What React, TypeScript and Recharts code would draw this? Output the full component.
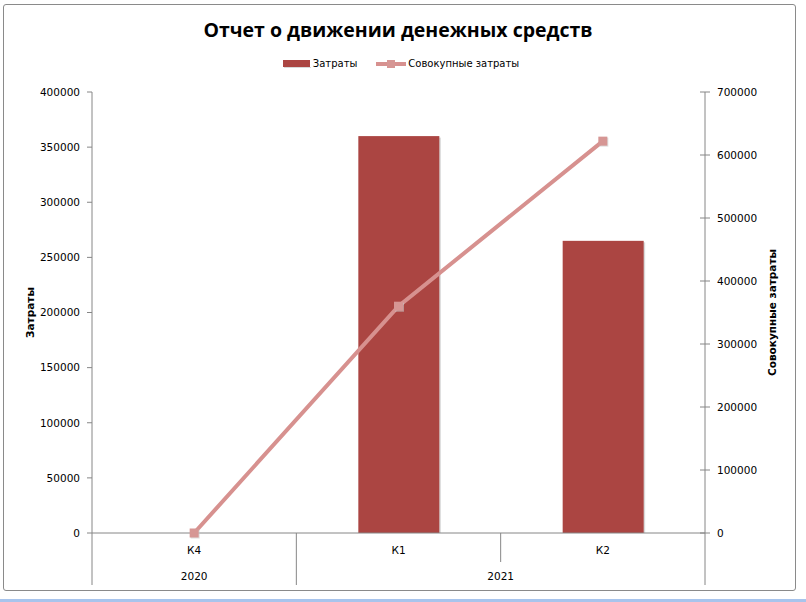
import React from 'react';
import { ComposedChart, Bar, Line, XAxis, YAxis, Legend } from 'recharts';

const quarters = ['К4', 'К1', 'К2'];
const years = ['2020', '2021', '2021'];
const costs = [0, 360000, 265000];
const cumulative = [0, 360000, 622000];
const leftTicks = [0, 50000, 100000, 150000, 200000, 250000, 300000, 350000, 400000];
const rightTicks = [0, 100000, 200000, 300000, 400000, 500000, 600000, 700000];

const data = quarters.map((q, i) => ({ q, year: years[i], cost: costs[i], cum: cumulative[i] }));

const AXIS = '#868686';
const BAR = '#ab4542';
const LINE = '#d7918f';
const FONT = '"DejaVu Sans", Verdana, sans-serif';
const FS = 10.5;

const LeftTick = (props: any) => {
  const { x, y, payload } = props;
  return (
    <g>
      <line x1={x - 5} x2={x} y1={y} y2={y} stroke={AXIS} />
      <text x={x - 12} y={y} dy={3.8} textAnchor="end" fontFamily={FONT} fontSize={FS} fill="#000">
        {payload.value}
      </text>
    </g>
  );
};

const RightTick = (props: any) => {
  const { x, y, payload } = props;
  return (
    <g>
      <line x1={x - 5} x2={x + 5} y1={y} y2={y} stroke={AXIS} />
      <text x={x + 12} y={y} dy={3.8} textAnchor="start" fontFamily={FONT} fontSize={FS} fill="#000">
        {payload.value}
      </text>
    </g>
  );
};

const QuarterTick = (props: any) => {
  const { x, y, payload, index, width, visibleTicksCount } = props;
  const band = width / visibleTicksCount;
  const left = x - band / 2;
  const groupStart = index === 0 || years[index] !== years[index - 1];
  const isLast = index === visibleTicksCount - 1;
  return (
    <g>
      <line x1={left} x2={left} y1={y} y2={groupStart ? y + 52 : y + 29} stroke={AXIS} />
      {isLast && <line x1={x + band / 2} x2={x + band / 2} y1={y} y2={y + 52} stroke={AXIS} />}
      <text x={x} y={y + 21} textAnchor="middle" fontFamily={FONT} fontSize={FS} fill="#000">
        {payload.value}
      </text>
    </g>
  );
};

const YearTick = (props: any) => {
  const { x, y, index, width, visibleTicksCount } = props;
  const band = width / visibleTicksCount;
  const groupStart = index === 0 || years[index] !== years[index - 1];
  if (!groupStart) return <g />;
  let n = 1;
  while (index + n < years.length && years[index + n] === years[index]) n++;
  const cx = x + ((n - 1) * band) / 2;
  return (
    <text x={cx} y={y + 21} textAnchor="middle" fontFamily={FONT} fontSize={FS} fill="#000">
      {years[index]}
    </text>
  );
};

const ShadowBar = (props: any) => {
  const { x, y, width, height } = props;
  if (!height || height <= 0) return <g />;
  return (
    <g>
      <rect x={x + 1.5} y={y + 1.5} width={width} height={height - 1.5} fill="#d9d9d9" />
      <rect x={x} y={y} width={width} height={height} fill={BAR} />
    </g>
  );
};

const SquareDot = (props: any) => {
  const { cx, cy, index } = props;
  if (cx == null || cy == null) return <g key={index} />;
  return (
    <g key={index}>
      <rect x={cx - 3.5} y={cy - 3.5} width={9} height={9} fill="#c8c8c8" opacity={0.6} />
      <rect x={cx - 4.5} y={cy - 4.5} width={9} height={9} fill="#d69694" />
    </g>
  );
};

const LeftLabel = (props: any) => {
  const vb = props.viewBox || {};
  const x = 34;
  const y = (vb.y ?? 92) + (vb.height ?? 441) / 2;
  return (
    <text x={x} y={y} transform={`rotate(-90, ${x}, ${y})`} textAnchor="middle" fontFamily={FONT} fontSize={FS} fontWeight="bold" fill="#000">
      Затраты
    </text>
  );
};

const RightLabel = (props: any) => {
  const vb = props.viewBox || {};
  const x = 776;
  const y = (vb.y ?? 92) + (vb.height ?? 441) / 2;
  return (
    <text x={x} y={y} transform={`rotate(-90, ${x}, ${y})`} textAnchor="middle" fontFamily={FONT} fontSize={FS} fontWeight="bold" fill="#000">
      Совокупные затраты
    </text>
  );
};

const LegendContent = () => (
  <div style={{ display: 'flex', justifyContent: 'center', alignItems: 'center', fontFamily: FONT, fontSize: 10, color: '#000', paddingRight: 4 }}>
    <svg width={29} height={10} style={{ marginRight: 1 }}>
      <rect x={0} y={1} width={27} height={7} fill={BAR} />
      <rect x={1} y={8} width={27} height={1} fill="#d9d9d9" />
    </svg>
    <span>Затраты</span>
    <svg width={31} height={10} style={{ marginLeft: 19, marginRight: 1 }}>
      <line x1={0} x2={30} y1={5} y2={5} stroke={LINE} strokeWidth={4} />
      <rect x={11} y={1} width={8} height={8} fill="#d69694" />
    </svg>
    <span>Совокупные затраты</span>
  </div>
);

export default function App() {
  return (
    <div style={{ position: 'absolute', left: 0, top: 0, width: 806, height: 602, background: '#fff', overflow: 'hidden' }}>
      <div style={{ position: 'absolute', left: 3, top: 4, width: 791, height: 585, border: '1.5px solid #8a8a8a', borderRadius: 3 }} />
      <div style={{ position: 'absolute', left: 0, top: 599, width: 806, height: 3, background: '#a8c4ec' }} />
      <div style={{ position: 'absolute', left: 0, top: 16, width: 796, textAlign: 'center', fontFamily: '"Open Sans", sans-serif', fontWeight: 700, fontSize: 19.5, color: '#000', paddingRight: 10 }}>
        Отчет о движении денежных средств
      </div>
      <div style={{ position: 'absolute', left: 0, top: 0 }}>
        <ComposedChart width={806} height={602} data={data} margin={{ top: 92, right: 0, bottom: 0, left: 0 }}>
          <Legend verticalAlign="middle" content={<LegendContent />} wrapperStyle={{ top: 58, left: 0, width: 806, height: 16 }} />
          <XAxis xAxisId="q" dataKey="q" height={26} tickSize={0} tickMargin={0} tickLine={false} axisLine={{ stroke: AXIS }} tick={<QuarterTick />} interval={0} />
          <XAxis xAxisId="year" dataKey="q" height={43} tickSize={0} tickMargin={0} tickLine={false} axisLine={false} tick={<YearTick />} interval={0} />
          <YAxis yAxisId="left" width={92} domain={[0, 400000]} ticks={leftTicks} interval={0} tickSize={0} tickMargin={0} tickLine={false} axisLine={{ stroke: AXIS }} tick={<LeftTick />} label={<LeftLabel />} />
          <YAxis yAxisId="right" orientation="right" width={101} domain={[0, 700000]} ticks={rightTicks} interval={0} tickSize={0} tickMargin={0} tickLine={false} axisLine={{ stroke: AXIS }} tick={<RightTick />} label={<RightLabel />} />
          <Bar xAxisId="q" yAxisId="left" dataKey="cost" name="Затраты" barSize={81} fill={BAR} shape={<ShadowBar />} isAnimationActive={false} />
          <Line xAxisId="q" yAxisId="right" dataKey="cum" name="Совокупные затраты" stroke={LINE} strokeWidth={4} dot={<SquareDot />} activeDot={false} isAnimationActive={false} />
        </ComposedChart>
      </div>
    </div>
  );
}
